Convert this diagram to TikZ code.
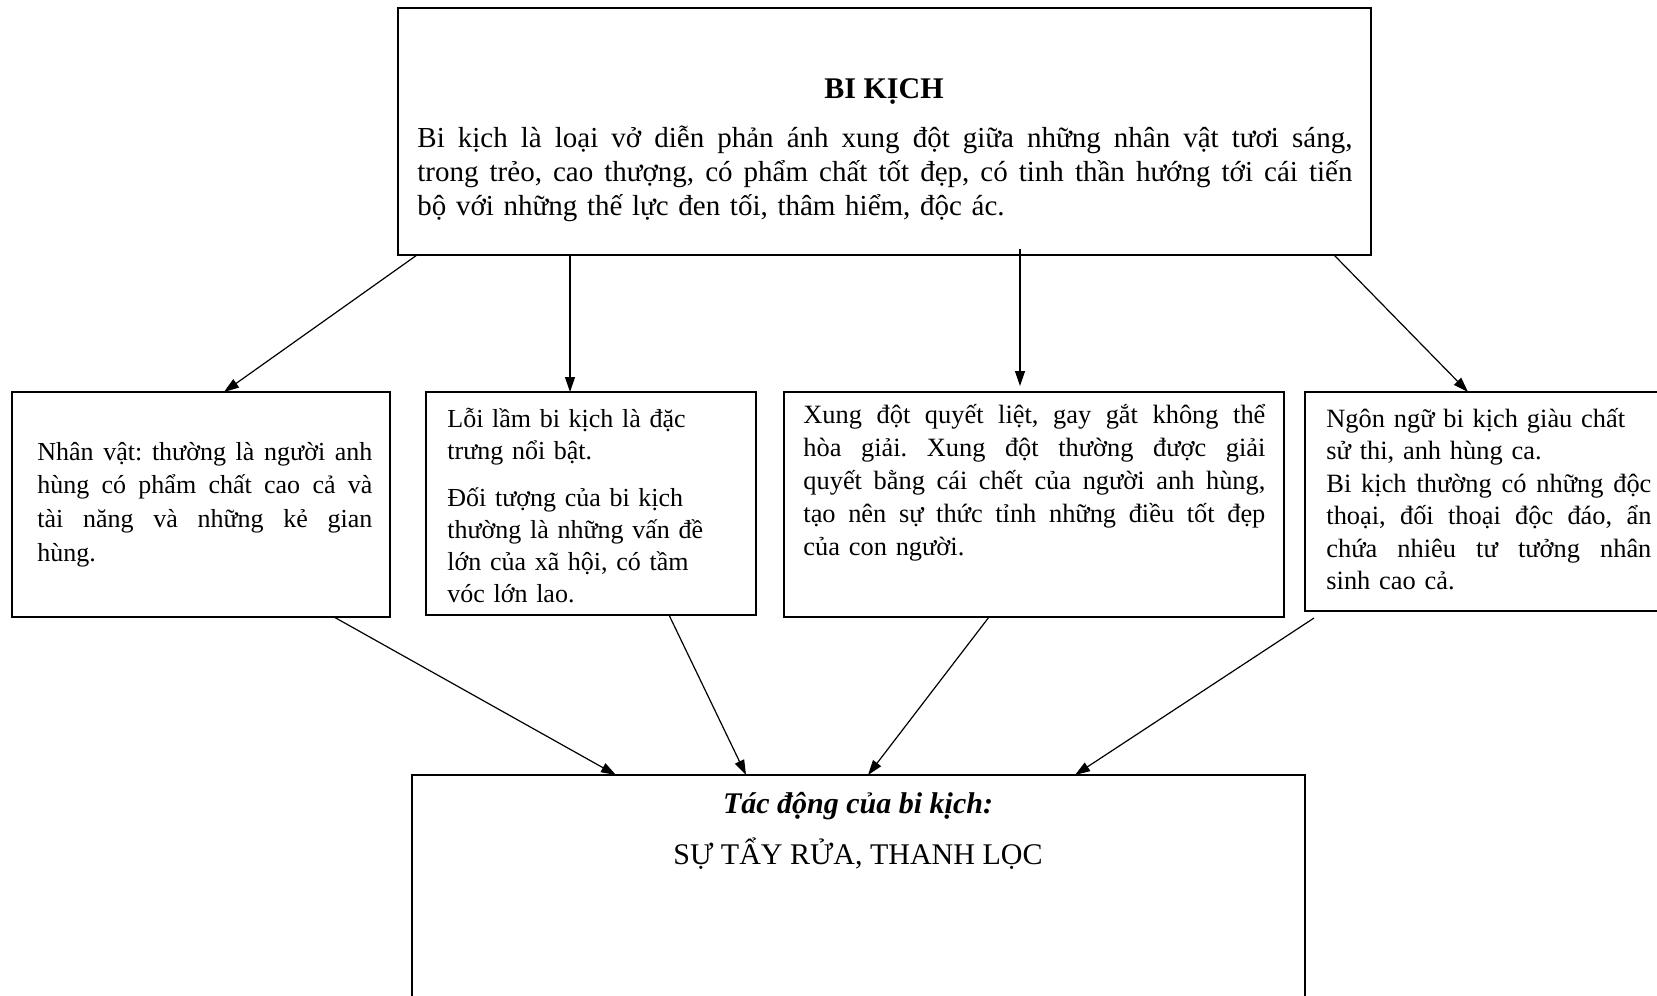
\documentclass[tikz,border=0pt]{standalone}
\usepackage{fontspec}
\setmainfont{Liberation Serif}
\usetikzlibrary{arrows.meta}
\frenchspacing
\newcommand{\jline}[2]{\leavevmode\hbox to #1{\spaceskip=\fontdimen2\font plus 1fil\relax\xspaceskip=\spaceskip #2}}
\begin{document}
\begin{tikzpicture}[x=0.5pt,y=-0.5pt,
 box/.style={draw, line width=1pt, inner sep=0pt, outer sep=0pt, anchor=north west},
 txt/.style={inner sep=0pt, anchor=base west, align=left},
 ctxt/.style={inner sep=0pt, anchor=base},
 arr/.style={-{Triangle[length=7.5pt,width=5pt]}, line width=0.6pt}]
\useasboundingbox (0,0) rectangle (1657,995);
\clip (0,0) rectangle (1657,995);

% boxes
\node[box, minimum width=486.5pt, minimum height=123.5pt] (top) at (398,8) {};
\node[box, minimum width=189pt, minimum height=112.5pt] (A) at (12,392) {};
\node[box, minimum width=165pt, minimum height=111.5pt] (B) at (426,392) {};
\node[box, minimum width=250pt, minimum height=112.5pt] (C) at (784,392) {};
\node[box, minimum width=197.5pt, minimum height=109.5pt] (D) at (1305,392) {};
\node[box, minimum width=446.5pt, minimum height=137.5pt] (bot) at (412,775) {};

% texts
\node[ctxt, font=\fontsize{15}{17}\selectfont\bfseries] (title) at (884,98) {BI KỊCH};
\node[txt, text width=470pt, font=\fontsize{14.5}{17.2}\selectfont] (ttext) at (417,147)
 {\jline{467.5pt}{Bi kịch là loại vở diễn phản ánh xung đột giữa những nhân vật tươi sáng,}\\
  \jline{467.5pt}{trong trẻo, cao thượng, có phẩm chất tốt đẹp, có tinh thần hướng tới cái tiến}\\
  bộ với những thế lực đen tối, thâm hiểm, độc ác.};

\node[txt, text width=170pt, font=\fontsize{13}{16.9}\selectfont] (Atext) at (37,460)
 {\jline{167.5pt}{Nhân vật: thường là người anh}\\
  \jline{167.5pt}{hùng có phẩm chất cao cả và}\\
  \jline{167.5pt}{tài năng và những kẻ gian}\\
  hùng.};

\node[txt, text width=160pt, font=\fontsize{13}{16}\selectfont] (Btext) at (447,427)
 {Lỗi lầm bi kịch là đặc\\
  trưng nổi bật.\\[7.8pt]
  Đối tượng của bi kịch\\
  thường là những vấn đề\\
  lớn của xã hội, có tầm\\
  vóc lớn lao.};

\node[txt, text width=234pt, font=\fontsize{13.2}{16.5}\selectfont] (Ctext) at (803,423)
 {\jline{231pt}{Xung đột quyết liệt, gay gắt không thể}\\
  \jline{231pt}{hòa giải. Xung đột thường được giải}\\
  \jline{231pt}{quyết bằng cái chết của người anh hùng,}\\
  \jline{231pt}{tạo nên sự thức tỉnh những điều tốt đẹp}\\
  của con người.};

\node[txt, text width=165pt, font=\fontsize{13.2}{16.25}\selectfont] (Dtext) at (1326,427)
 {Ngôn ngữ bi kịch giàu chất\\
  sử thi, anh hùng ca.\\
  \jline{162.5pt}{Bi kịch thường có những độc}\\
  \jline{162.5pt}{thoại, đối thoại độc đáo, ẩn}\\
  \jline{162.5pt}{chứa nhiêu tư tưởng nhân}\\
  sinh cao cả.};

\node[ctxt, font=\fontsize{15}{17}\selectfont\bfseries\itshape] (btitle) at (858,813) {Tác động của bi kịch:};
\node[ctxt, font=\fontsize{15}{17}\selectfont] (btext) at (858,864) {SỰ TẨY RỬA, THANH LỌC};

% connectors
\draw[arr] ([xshift=9.5pt]top.south west) -- ([xshift=106pt]A.north west);
\draw[arr] ([xshift=86pt]top.south west) -- ([xshift=72pt]B.north west);
\draw[arr] ([xshift=311pt,yshift=3pt]top.south west) -- ([xshift=118pt,yshift=3pt]C.north west);
\draw[arr] ([xshift=468pt]top.south west) -- ([xshift=81.5pt]D.north west);

\draw[arr] ([xshift=161pt]A.south west) -- ([xshift=102pt]bot.north west);
\draw[arr] ([xshift=121.5pt]B.south west) -- ([xshift=167pt]bot.north west);
\draw[arr] ([xshift=102.5pt]C.south west) -- ([xshift=228pt]bot.north west);
\draw[arr] ([xshift=4.5pt,yshift=-3.5pt]D.south west) -- ([xshift=331.5pt]bot.north west);
\end{tikzpicture}
\end{document}
